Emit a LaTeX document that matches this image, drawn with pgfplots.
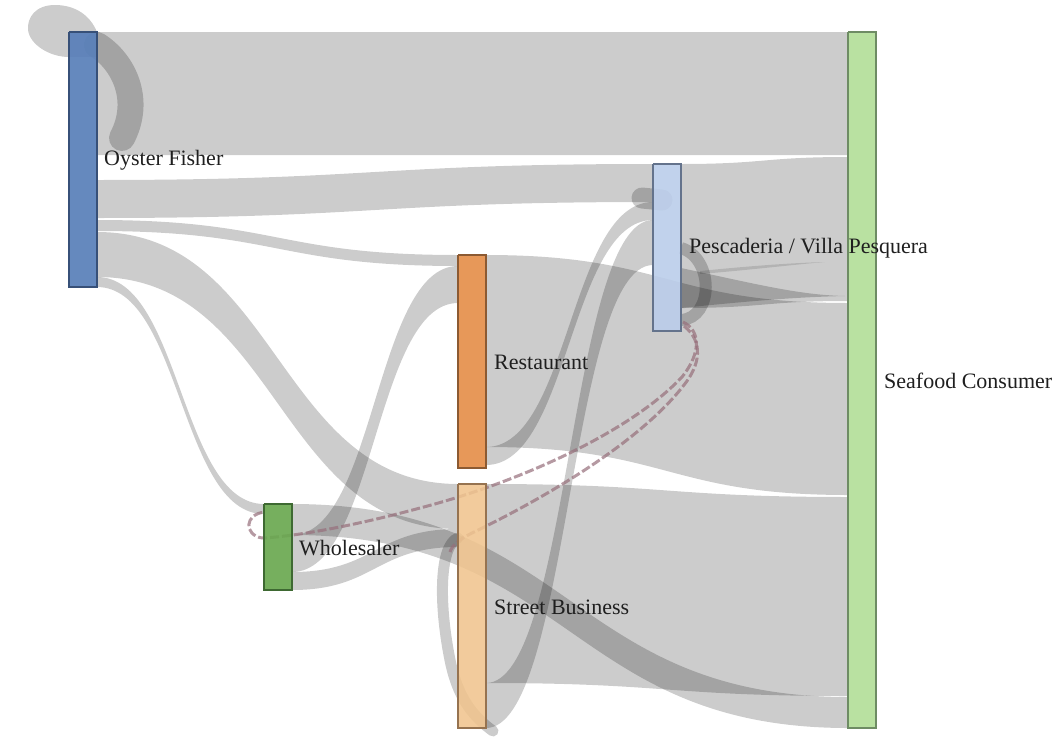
\documentclass[border=0pt]{standalone}
\usepackage{pgfplots}
\pgfplotsset{compat=1.18}
\usepackage{fontspec}
\setmainfont{Liberation Serif}
\newfontfamily\labfont{Liberation Serif}
\definecolor{cOy}{RGB}{88,127,185}
\definecolor{cOyD}{RGB}{55,80,120}
\definecolor{cWh}{RGB}{106,168,80}
\definecolor{cWhD}{RGB}{62,105,50}
\definecolor{cRe}{RGB}{229,143,75}
\definecolor{cReD}{RGB}{140,90,50}
\definecolor{cSt}{RGB}{240,196,142}
\definecolor{cStD}{RGB}{150,115,80}
\definecolor{cPe}{RGB}{186,205,234}
\definecolor{cPeD}{RGB}{100,115,140}
\definecolor{cCo}{RGB}{181,223,156}
\definecolor{cCoD}{RGB}{110,140,100}
\definecolor{cDash}{RGB}{150,110,122}
% band: x0, top0, bot0, x1, top1, bot1, xmid
\newcommand{\link}[7]{\fill[black,fill opacity=0.2] (axis cs:#1,#2) .. controls (axis cs:#7,#2) and (axis cs:#7,#5) .. (axis cs:#4,#5) -- (axis cs:#4,#6) .. controls (axis cs:#7,#6) and (axis cs:#7,#3) .. (axis cs:#1,#3) -- cycle;}
\tikzset{lab/.style={anchor=west,inner sep=0pt,text=black!88,font=\labfont\fontsize{22}{26}\selectfont}}
\begin{document}
\begin{tikzpicture}
\begin{axis}[x=1pt, y=1pt, y dir=reverse, xmin=0, xmax=1057, ymin=0, ymax=747,
  hide axis, clip=false, at={(0,0)}, anchor=south west]
% ---- links (gray, rgba(0,0,0,0.2)) ----
\link{97}{32}{155}{848}{32}{155}{472.5}
\link{97}{180}{218}{653}{164}{202}{375}
\link{97}{220}{231}{458}{255}{266}{277.5}
\link{97}{232}{277}{458}{484}{529}{277.5}
\link{97}{277}{287}{264}{504}{514}{180.5}
\link{292}{504}{535}{848}{697}{728}{570}
\link{292}{535}{572}{458}{266}{303}{375}
\link{292}{572}{590}{458}{529}{547}{375}
\link{486}{255}{447}{848}{303}{495}{667}
\link{486}{447}{465}{653}{202}{220}{569.5}
\link{486}{484}{683}{848}{497}{696}{667}
\link{486}{683}{728}{653}{220}{265}{569.5}
\link{681}{164}{308}{848}{157}{301}{764.5}
% oyster self loop
\fill[black,fill opacity=0.2] (axis cs:97,32) .. controls (axis cs:90,15) and (axis cs:75,5) .. (axis cs:55,5) .. controls (axis cs:35,5) and (axis cs:27,18) .. (axis cs:28,30) .. controls (axis cs:30,45) and (axis cs:50,57) .. (axis cs:69,57) -- (axis cs:97,57) -- cycle;
\draw[black,draw opacity=0.2,line width=26pt,line cap=round] (axis cs:97,45) .. controls (axis cs:124,62) and (axis cs:142,100) .. (axis cs:122,138);
% pescaderia loops
\fill[black,fill opacity=0.2] (axis cs:681,268) .. controls (axis cs:760,285) and (axis cs:800,295) .. (axis cs:845,296) .. controls (axis cs:800,297) and (axis cs:760,300) .. (axis cs:681,308) -- cycle;
\draw[black,draw opacity=0.2,line width=12pt] (axis cs:681,248) .. controls (axis cs:714,258) and (axis cs:714,318) .. (axis cs:681,320);
\draw[black,draw opacity=0.2,line width=21pt,line cap=round] (axis cs:642,198) -- (axis cs:662,200);
\fill[black,fill opacity=0.12] (axis cs:700,271) .. controls (axis cs:750,266) and (axis cs:790,263) .. (axis cs:825,262) .. controls (axis cs:790,265) and (axis cs:750,270) .. (axis cs:700,274) -- cycle;
% street loop
\draw[black,draw opacity=0.2,line width=11pt,line cap=round] (axis cs:458,538) .. controls (axis cs:440,545) and (axis cs:438,600) .. (axis cs:450,660) .. controls (axis cs:458,700) and (axis cs:475,718) .. (axis cs:493,731);
% dashed links
\draw[cDash,draw opacity=0.7,line width=3pt,dash pattern=on 9pt off 3pt] (axis cs:683,322) .. controls (axis cs:700,330) and (axis cs:702,352) .. (axis cs:682,377) .. controls (axis cs:630,432) and (axis cs:520,482) .. (axis cs:420,508) .. controls (axis cs:350,527) and (axis cs:290,537) .. (axis cs:262,538) .. controls (axis cs:244,535) and (axis cs:244,514) .. (axis cs:265,512);
\draw[cDash,draw opacity=0.7,line width=3pt,dash pattern=on 9pt off 3pt] (axis cs:684,326) .. controls (axis cs:704,342) and (axis cs:700,365) .. (axis cs:684,385) .. controls (axis cs:640,442) and (axis cs:545,498) .. (axis cs:472,533) .. controls (axis cs:460,539) and (axis cs:452,545) .. (axis cs:450,552);
% ---- nodes ----
\addplot[mark=none, fill=cOy, fill opacity=0.92, draw=cOyD, line width=1.2pt] coordinates {(69,32) (97,32) (97,287) (69,287) (69,32)};
\addplot[mark=none, fill=cWh, fill opacity=0.92, draw=cWhD, line width=1.2pt] coordinates {(264,504) (292,504) (292,590) (264,590) (264,504)};
\addplot[mark=none, fill=cRe, fill opacity=0.92, draw=cReD, line width=1.2pt] coordinates {(458,255) (486,255) (486,468) (458,468) (458,255)};
\addplot[mark=none, fill=cSt, fill opacity=0.88, draw=cStD, line width=1.2pt] coordinates {(458,484) (486,484) (486,728) (458,728) (458,484)};
\addplot[mark=none, fill=cPe, fill opacity=0.9, draw=cPeD, line width=1.2pt] coordinates {(653,164) (681,164) (681,331) (653,331) (653,164)};
\addplot[mark=none, fill=cCo, fill opacity=0.95, draw=cCoD, line width=1.2pt] coordinates {(848,32) (876,32) (876,728) (848,728) (848,32)};
% ---- labels ----
\node[lab] at (axis cs:104,160) {Oyster Fisher};
\node[lab] at (axis cs:299,548) {Wholesaler};
\node[lab] at (axis cs:494,362) {Restaurant};
\node[lab] at (axis cs:494,607) {Street Business};
\node[lab] at (axis cs:689,248) {Pescaderia / Villa Pesquera};
\node[lab] at (axis cs:884,381) {Seafood Consumer};
\end{axis}
\pgfresetboundingbox
\path (0,0) rectangle (1057pt,747pt);
\end{tikzpicture}
\end{document}
